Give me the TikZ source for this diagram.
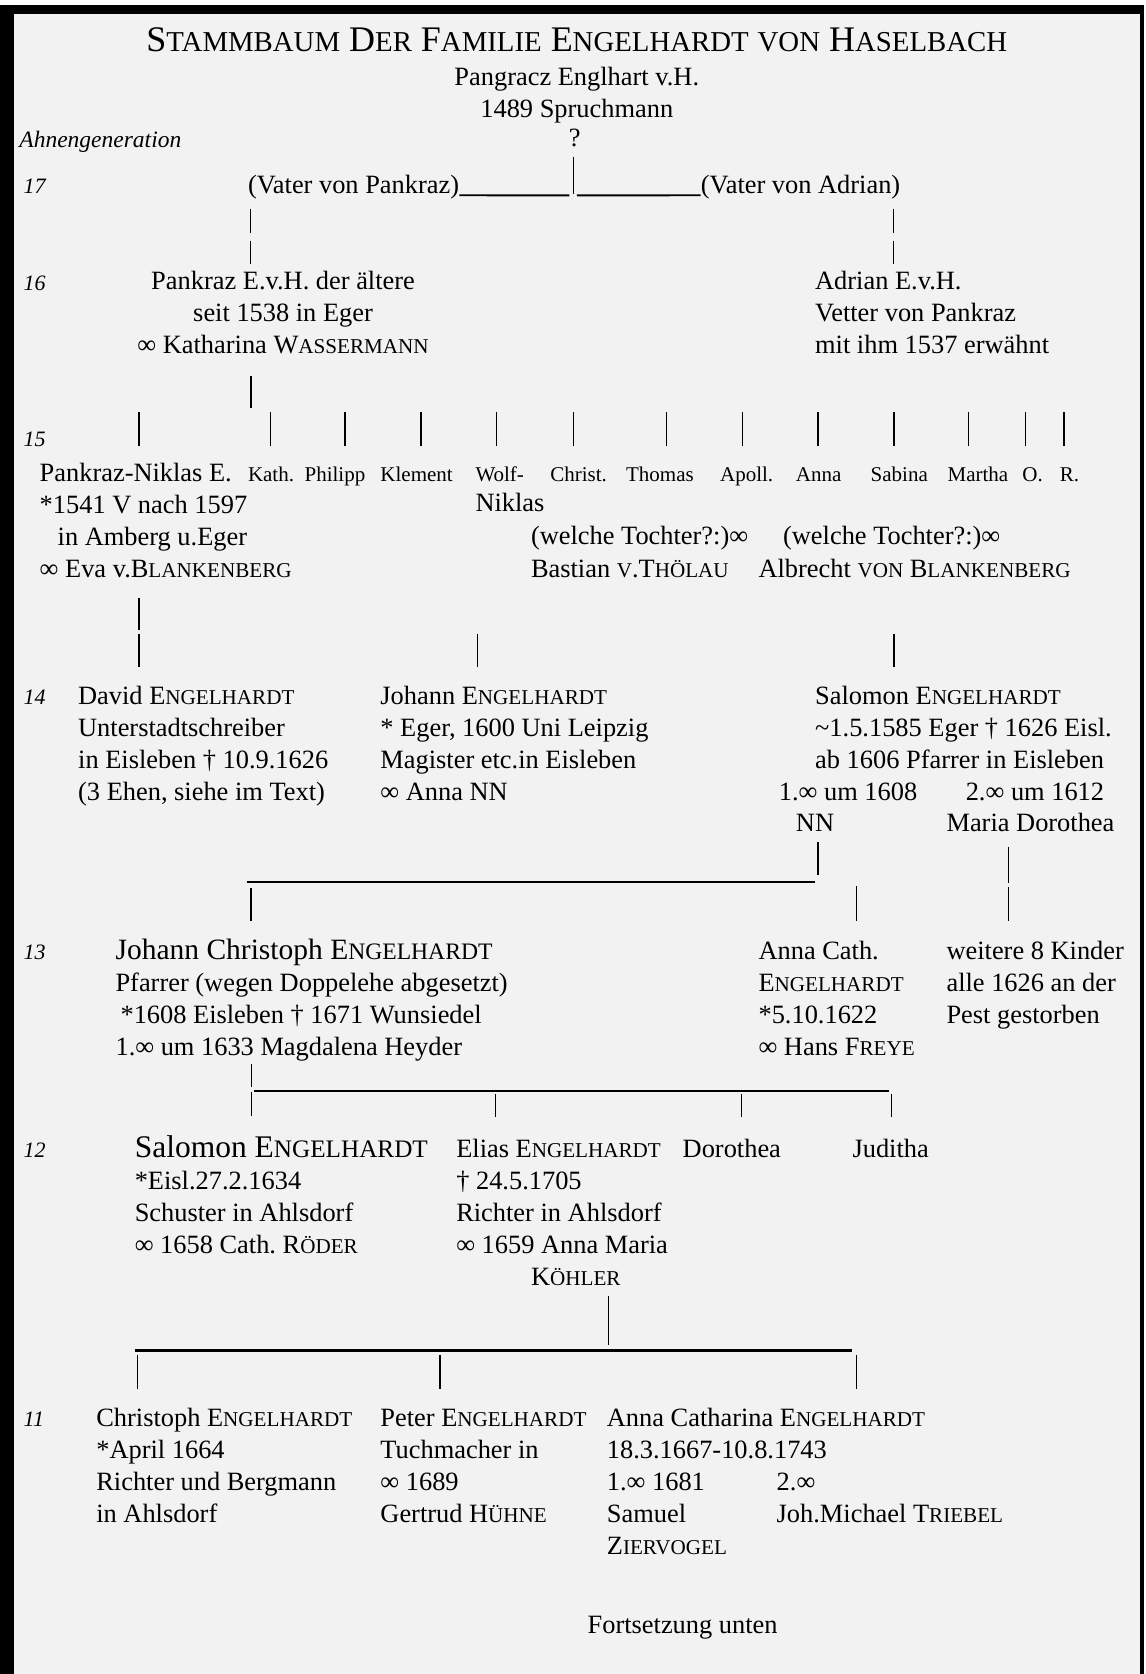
\documentclass[tikz,border=0pt]{standalone}
\usepackage{fontspec}
\setmainfont{Liberation Serif}
\makeatletter
\newcommand\kap[1]{{\fontsize{\fpeval{0.8*\f@size}}{\f@baselineskip}\selectfont #1}}
\makeatother
\newcommand\bodyfont{\fontsize{26.4}{32}\selectfont\frenchspacing}
\newcommand\namefont{\fontsize{21}{26}\selectfont\frenchspacing}
\newcommand\genfont{\fontsize{22}{26}\selectfont\itshape}
\newcommand\blockl[1]{\vtop{\halign{##\hfil\cr#1\crcr}}}
\newcommand\blockc[1]{\vtop{\halign{\hfil##\hfil\cr#1\crcr}}}
\definecolor{bg}{HTML}{F2F2F2}
\tikzset{
  txt/.style={inner sep=0pt, anchor=base west, font=\bodyfont},
  ctxt/.style={inner sep=0pt, anchor=base, font=\bodyfont},
  sname/.style={inner sep=0pt, anchor=base west, font=\namefont},
  gen/.style={inner sep=0pt, anchor=base west, font=\genfont},
  thick tick/.style={line width=1.4pt},
  thin tick/.style={line width=0.8pt},
  bar/.style={line width=2.4pt},
}
\begin{document}
\begin{tikzpicture}[x=1.0681pt,y=-1.0676pt]
\useasboundingbox (0,0) rectangle (1072,1568);
\fill[white] (0,0) rectangle (1072,1568);
\fill[bg] (13,13) rectangle (1067,1568);
\fill[black] (0,4.7) rectangle (1071,13.1);
\fill[black] (0,4.7) rectangle (13,1568);
\fill[black] (1067.3,4.7) rectangle (1071.1,1568);

% title
\node[ctxt, font=\fontsize{36}{40}\selectfont] (title) at (540,48)
  {S\kap{TAMMBAUM} D\kap{ER} F\kap{AMILIE} E\kap{NGELHARDT} \kap{VON} H\kap{ASELBACH}};
\node[ctxt] (pang) at (540,80) {Pangracz Englhart v.H.};
\node[ctxt] (pang2) at (540,110) {1489 Spruchmann};
\node[ctxt] (q) at (538,137) {?};
\node[inner sep=0pt, anchor=base west, font=\fontsize{23.5}{28}\selectfont\itshape] (ahnen) at (18,138) {Ahnengeneration};

% generation numbers
\node[gen] (g17) at (22,181) {17};
\node[gen] (g16) at (22,272) {16};
\node[gen] (g15) at (22,418) {15};
\node[gen] (g14) at (22,660) {14};
\node[gen] (g13) at (22,899) {13};
\node[gen] (g12) at (22,1084) {12};
\node[gen] (g11) at (22,1336) {11};

% row 17
\node[txt] (vp) at (232,181) {(Vater von Pankraz)};
\node[txt] (va) at (656,181) {(Vater von Adrian)};
\coordinate (u1b) at (533,183);
\coordinate (u2a) at (540,183);
\draw[line width=1.8pt] ([yshift=-2.1pt]vp.base east) -- (u1b);
\draw[line width=1.8pt] (u2a) -- ([yshift=-2.1pt]va.base west);
\draw[thin tick] (537,147) -- (537,182);
\draw[thin tick] (234,196) -- (234,218) (234,226) -- (234,247);
\draw[thin tick] (836,196) -- (836,218) (836,226) -- (836,247);

% row 16
\node[ctxt] (pankraz) at (265,271) {\blockc{Pankraz E.v.H. der ältere\cr seit 1538 in Eger\cr ∞ Katharina W\kap{ASSERMANN}}};
\node[txt] (adrian) at (763,271) {\blockl{Adrian E.v.H.\cr Vetter von Pankraz\cr mit ihm 1537 erwähnt}};
\draw[thick tick] (235,352) -- (235,382);

% row 15 ticks
\foreach \x in {130,253,323,394,465,537,624,695,766,837,907,960,996}
  \draw[thick tick] (\x,386) -- (\x,418);

% row 15 names
\node[txt] (pn) at (37,451) {\blockl{Pankraz-Niklas E.\cr *1541 V nach 1597\cr \kern18pt in Amberg u.Eger\cr ∞ Eva v.B\kap{LANKENBERG}}};
\node[sname] (kath) at (232,451) {Kath.};
\node[sname] (phil) at (285,451) {Philipp};
\node[sname] (klem) at (356,451) {Klement};
\node[sname] (wolf) at (445,451) {Wolf-};
\node[txt] (wolf2) at (445,479) {Niklas};
\node[sname] (christ) at (515,451) {Christ.};
\node[sname] (thomas) at (586,451) {Thomas};
\node[sname] (apoll) at (674,451) {Apoll.};
\node[sname] (anna) at (745,451) {Anna};
\node[sname] (sabina) at (815,451) {Sabina};
\node[sname] (martha) at (887,451) {Martha};
\node[sname] (o) at (957,451) {O.};
\node[sname] (r) at (992,451) {R.};
\node[txt] (wt1) at (497,510) {(welche Tochter?:)∞};
\node[txt] (bast) at (497,541) {Bastian \kap{V}.T\kap{HÖLAU}};
\node[txt] (wt2) at (733,510) {(welche Tochter?:)∞};
\node[txt] (albr) at (710,541) {Albrecht \kap{VON} B\kap{LANKENBERG}};

\draw[thick tick] (130,560) -- (130,590) (130,594) -- (130,625);
\draw[thick tick] (447,594) -- (447,625);
\draw[thick tick] (837,594) -- (837,625);

% row 14
\node[txt] (david) at (73,660) {\blockl{David E\kap{NGELHARDT}\cr Unterstadtschreiber\cr in Eisleben † 10.9.1626\cr (3 Ehen, siehe im Text)}};
\node[txt] (johann) at (356,660) {\blockl{Johann E\kap{NGELHARDT}\cr * Eger, 1600 Uni Leipzig\cr Magister etc.in Eisleben\cr ∞ Anna NN}};
\node[txt] (salomon) at (763,660) {\blockl{Salomon E\kap{NGELHARDT}\cr \textasciitilde1.5.1585 Eger † 1626 Eisl.\cr ab 1606 Pfarrer in Eisleben}};
\node[txt] (e1) at (729,750) {1.∞ um 1608};
\node[txt] (nn) at (745,779) {NN};
\node[txt] (e2) at (904,750) {2.∞ um 1612};
\node[txt] (maria) at (886,779) {Maria Dorothea};

\draw[thick tick] (766,789) -- (766,820);
\draw[bar] (231,826) -- (763,826);
\draw[thick tick] (235,832) -- (235,863);
\draw[thick tick] (802,830) -- (802,863);
\draw[thick tick] (944,793) -- (944,827) (944,831) -- (944,863);

% row 13
\node[txt] (jc) at (108,899) {\blockl{{\fontsize{29.5}{32}\selectfont Johann Christoph E\kap{NGELHARDT}}\cr Pfarrer (wegen Doppelehe abgesetzt)\cr \kern5pt*1608 Eisleben † 1671 Wunsiedel\cr 1.∞ um 1633 Magdalena Heyder}};
\node[txt] (annacath) at (710,899) {\blockl{Anna Cath.\cr E\kap{NGELHARDT}\cr *5.10.1622\cr ∞ Hans F\kap{REYE}}};
\node[txt] (weitere) at (886,899) {\blockl{weitere 8 Kinder\cr alle 1626 an der\cr Pest gestorben}};

\draw[thin tick] (235,997) -- (235,1018) (235,1023) -- (235,1045);
\draw[bar] (238,1022) -- (832,1022);
\foreach \x in {464,694,835}
  \draw[thin tick] (\x,1025) -- (\x,1046);

% row 12
\node[txt] (salomon2) at (126,1084) {\blockl{{\fontsize{31.5}{32}\selectfont Salomon E\kap{NGELHARDT}}\cr *Eisl.27.2.1634\cr Schuster in Ahlsdorf\cr ∞ 1658 Cath. R\kap{ÖDER}}};
\node[txt] (elias) at (427,1084) {\blockl{Elias E\kap{NGELHARDT}\cr † 24.5.1705\cr Richter in Ahlsdorf\cr ∞ 1659 Anna Maria}};
\node[txt] (koehler) at (497,1204) {K\kap{ÖHLER}};
\node[txt] (doro) at (639,1084) {Dorothea};
\node[txt] (judi) at (798,1084) {Juditha};

\draw[thin tick] (570,1214) -- (570,1260);
\draw[bar] (126,1265) -- (798,1265);
\foreach \x in {129,412,802}
  \draw[thick tick] (\x,1269) -- (\x,1301);

% row 11
\node[txt] (christoph) at (90,1336) {\blockl{Christoph E\kap{NGELHARDT}\cr *April 1664\cr Richter und Bergmann\cr in Ahlsdorf}};
\node[txt] (peter) at (356,1336) {\blockl{Peter E\kap{NGELHARDT}\cr Tuchmacher in\cr ∞ 1689\cr Gertrud H\kap{ÜHNE}}};
\node[txt] (annacat) at (568,1336) {\blockl{Anna Catharina E\kap{NGELHARDT}\cr 18.3.1667-10.8.1743\cr 1.∞ 1681\cr Samuel\cr Z\kap{IERVOGEL}}};
\node[txt] (e3) at (727,1396) {2.∞};
\node[txt] (triebel) at (727,1426) {Joh.Michael T\kap{RIEBEL}};

\node[txt] (fort) at (550,1530) {Fortsetzung unten};
\end{tikzpicture}
\end{document}
